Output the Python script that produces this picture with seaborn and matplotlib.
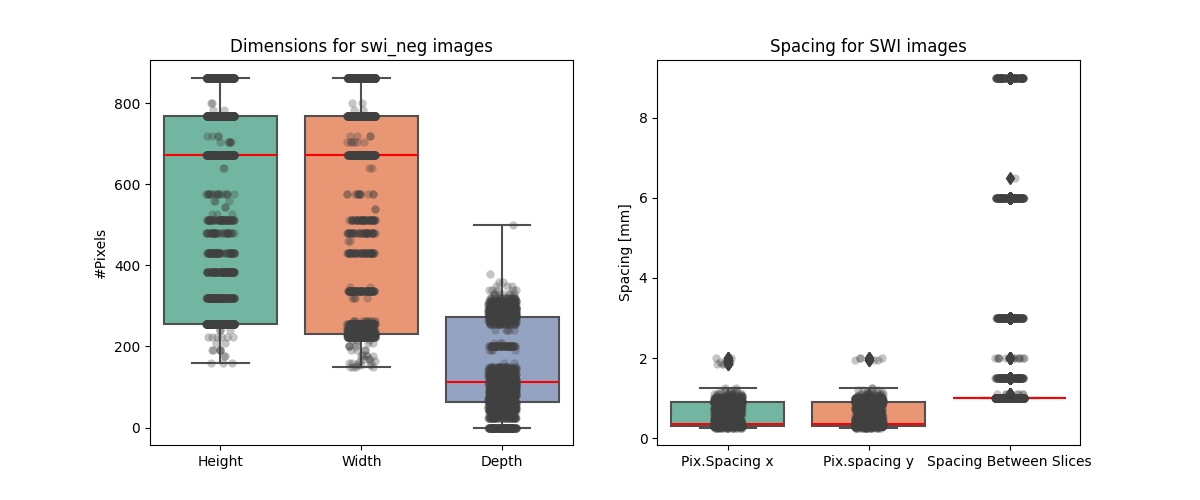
import numpy as np
import pandas as pd
import matplotlib
matplotlib.use("Agg")
import matplotlib.pyplot as plt
import seaborn as sns

# distinct values, with rough counts of how many images share them
height_vals = [160, 176, 192, 208, 224, 240, 256, 320, 384, 432, 480, 512, 528, 545,
               560, 576, 640, 672, 704, 720, 768, 785, 800, 864]
height_cnts = [3, 2, 5, 2, 6, 3, 450, 120, 90, 60, 36, 60, 3, 2,
               3, 18, 2, 210, 6, 4, 360, 2, 2, 300]

width_vals = [150, 155, 160, 165, 170, 176, 180, 192, 200, 208, 216, 224, 232, 240,
              248, 256, 264, 320, 336, 348, 432, 460, 480, 512, 540, 576, 640, 672,
              704, 720, 768, 785, 800, 864]
width_cnts = [4, 3, 4, 2, 3, 3, 2, 4, 4, 3, 3, 120, 300, 75,
              30, 90, 12, 4, 75, 2, 45, 2, 36, 45, 2, 12, 2, 180,
              6, 4, 330, 2, 2, 390]

depth_vals = [0, 24, 32, 40, 44, 48, 52, 56, 60, 64, 68, 72, 76, 80, 84, 88, 92, 96,
              100, 104, 108, 112, 116, 120, 124, 128, 132, 136, 140, 144, 150, 160,
              192, 200, 208, 240, 256, 264, 272, 280, 288, 296, 304, 312, 320, 330,
              340, 350, 360, 380, 500]
depth_cnts = [140, 50, 15, 30, 30, 45, 40, 45, 45, 60, 40, 45, 40, 45, 40, 45, 40, 45,
              40, 45, 40, 45, 40, 40, 35, 40, 30, 30, 25, 30, 25, 2,
              4, 60, 3, 5, 30, 40, 70, 90, 110, 100, 60, 35, 20, 8,
              5, 3, 2, 1, 1]

pixx_vals = [0.27, 0.28, 0.30, 0.31, 0.32, 0.33, 0.34, 0.35,
             0.37, 0.39, 0.40, 0.42, 0.43, 0.45, 0.47, 0.49, 0.50, 0.52, 0.55, 0.57,
             0.60, 0.625, 0.65, 0.68, 0.70, 0.72, 0.75, 0.78, 0.80, 0.83, 0.86, 0.88,
             0.90, 0.92, 0.94, 0.96, 0.98, 1.0, 1.02, 1.05, 1.08, 1.1, 1.15, 1.2, 1.25,
             1.85, 1.9, 1.95, 2.0]
pixx_cnts = [25, 15, 200, 240, 60, 90, 100, 220,
             20, 15, 25, 15, 20, 25, 20, 15, 25, 15, 20, 15,
             20, 25, 18, 15, 20, 15, 18, 12, 20, 14, 15, 15,
             150, 30, 80, 30, 80, 60, 10, 12, 6, 8, 5, 3, 2,
             3, 2, 1, 3]

pixy_vals = [0.27, 0.28, 0.30, 0.31, 0.32, 0.33, 0.34, 0.35,
             0.37, 0.39, 0.40, 0.42, 0.43, 0.45, 0.47, 0.49, 0.50, 0.52, 0.55, 0.57,
             0.60, 0.625, 0.65, 0.68, 0.70, 0.72, 0.75, 0.78, 0.80, 0.83, 0.86, 0.88,
             0.90, 0.92, 0.94, 0.96, 0.98, 1.0, 1.02, 1.05, 1.08, 1.1, 1.15, 1.2, 1.25,
             1.95, 2.0]
pixy_cnts = [25, 15, 200, 240, 60, 90, 100, 220,
             18, 16, 24, 15, 20, 25, 20, 16, 25, 15, 20, 15,
             20, 25, 18, 15, 20, 15, 18, 12, 20, 14, 15, 16,
             150, 30, 80, 30, 80, 60, 10, 12, 6, 8, 5, 3, 2,
             3, 3]

slice_vals = [1.0, 1.1, 1.5, 2.0, 3.0, 6.0, 6.5, 9.0]
slice_cnts = [1500, 8, 120, 15, 120, 120, 1, 90]

dim_names = ["Height", "Width", "Depth"]
spc_names = ["Pix.Spacing x", "Pix.spacing y", "Spacing Between Slices"]


def long_df(names, vals, cnts):
    parts = []
    for n, v, c in zip(names, vals, cnts):
        parts.append(pd.DataFrame({"var": n, "value": np.repeat(v, c)}))
    return pd.concat(parts, ignore_index=True)


dims = long_df(dim_names, [height_vals, width_vals, depth_vals],
               [height_cnts, width_cnts, depth_cnts])
spc = long_df(spc_names, [pixx_vals, pixy_vals, slice_vals],
              [pixx_cnts, pixy_cnts, slice_cnts])

fig, axes = plt.subplots(1, 2, figsize=(12, 5), dpi=100)

box_kw = dict(palette="Set2", legend=False, linecolor="#505050", linewidth=1.5,
              medianprops=dict(color="red", linewidth=1.5),
              flierprops=dict(marker="d", markerfacecolor="#404040",
                              markeredgecolor="#404040", markersize=6))

for ax, df, title, ylab in [(axes[0], dims, "Dimensions for swi_neg images", "#Pixels"),
                            (axes[1], spc, "Spacing for SWI images", "Spacing [mm]")]:
    sns.boxplot(data=df, x="var", y="value", hue="var", ax=ax, **box_kw)
    sns.stripplot(data=df, x="var", y="value", color=".25", alpha=0.3, size=6,
                  jitter=0.1, ax=ax)
    ax.set_title(title)
    ax.set_ylabel(ylab)
    ax.set_xlabel("")

plt.savefig("out.png")
